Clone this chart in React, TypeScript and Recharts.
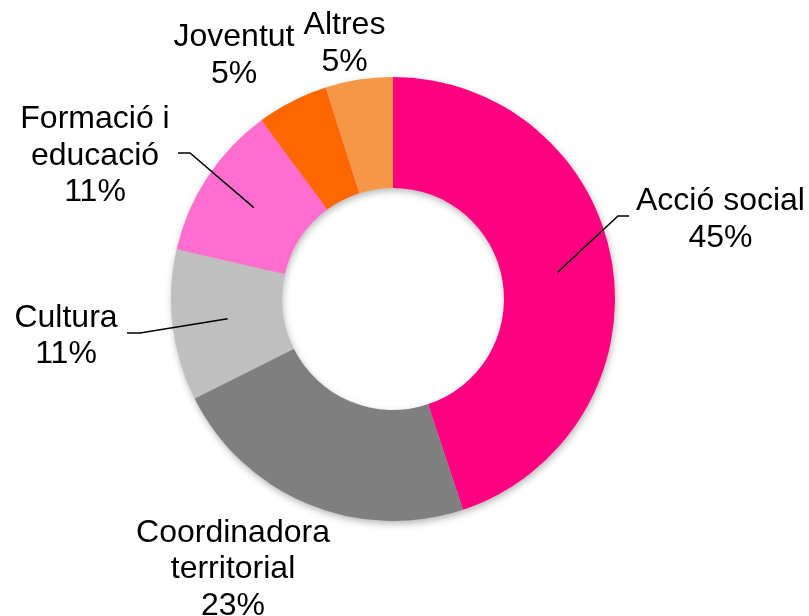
import React from 'react';
import { PieChart, Pie, Cell } from 'recharts';

const categories = ['Acció social', 'Coordinadora territorial', 'Cultura', 'Formació i educació', 'Joventut', 'Altres'];
const values = [44.9, 22.7, 11.0, 11.3, 5.2, 4.9];
const colors = ['#FF0080', '#7F7F7F', '#BFBFBF', '#FF6ECE', '#FF6600', '#F79646'];
const labelLines = [['Acció social'], ['Coordinadora', 'territorial'], ['Cultura'], ['Formació i', 'educació'], ['Joventut'], ['Altres']];

const data = categories.map((name, i) => ({ name, value: values[i] }));

// label layout: first-line baseline centre, relative to the pie centre
const labelOffsets: [number, number][] = [
  [327.5, -89],
  [-160, 242.7],
  [-327, 27.7],
  [-298, -170.7],
  [-159, -253],
  [-48.5, -264.7],
];
// leader lines: elbow and end, relative to the pie centre (null = no leader)
const leaders: ([number, number][] | null)[] = [
  [[225, -83], [236, -83]],
  null,
  [[-253, 34], [-266, 34]],
  [[-203, -146], [-215, -146]],
  null,
  null,
];

const LINE_H = 36.5;
const RAD = Math.PI / 180;

const renderLabel = (props: any) => {
  const { cx, cy, midAngle, innerRadius, outerRadius, percent, index } = props;
  const [ox, oy] = labelOffsets[index];
  const lines = [...labelLines[index], `${Math.round(percent * 100)}%`];
  const lead = leaders[index];
  let path: React.ReactNode = null;
  if (lead) {
    const r = (innerRadius + outerRadius) / 2;
    const sx = cx + r * Math.cos(-midAngle * RAD);
    const sy = cy + r * Math.sin(-midAngle * RAD);
    const pts = [[sx, sy], ...lead.map(([x, y]) => [cx + x, cy + y])];
    path = (
      <polyline
        points={pts.map((p) => p.join(',')).join(' ')}
        fill="none"
        stroke="#000"
        strokeWidth={1.5}
      />
    );
  }
  return (
    <g key={`lbl-${index}`}>
      {path}
      <text
        x={cx + ox}
        y={cy + oy}
        textAnchor="middle"
        fontFamily="'Liberation Sans', Arial, sans-serif"
        fontSize={32}
        fill="#000"
      >
        {lines.map((t, i) => (
          <tspan key={i} x={cx + ox} dy={i === 0 ? 0 : LINE_H}>
            {t}
          </tspan>
        ))}
      </text>
    </g>
  );
};

export default function App() {
  return (
    <div style={{ position: 'absolute', left: 0, top: 0, width: 809, height: 616, background: '#fff' }}>
      <style>{`.shadowPie { filter: blur(2.5px); }`}</style>
      <PieChart width={809} height={616} margin={{ top: 0, right: 0, bottom: 0, left: 0 }}>
        <Pie
          className="shadowPie"
          data={data}
          dataKey="value"
          nameKey="name"
          cx={394}
          cy={302}
          innerRadius={111}
          outerRadius={222}
          startAngle={90}
          endAngle={-270}
          stroke="none"
          isAnimationActive={false}
          label={false}
          labelLine={false}
        >
          {data.map((d, i) => (
            <Cell key={`s-${i}`} fill="rgba(0,0,0,0.28)" />
          ))}
        </Pie>
        <Pie
          data={data}
          dataKey="value"
          nameKey="name"
          cx={393}
          cy={299}
          innerRadius={111}
          outerRadius={222}
          startAngle={90}
          endAngle={-270}
          stroke="none"
          isAnimationActive={false}
          label={renderLabel}
          labelLine={false}
        >
          {data.map((d, i) => (
            <Cell key={`c-${i}`} fill={colors[i]} />
          ))}
        </Pie>
      </PieChart>
    </div>
  );
}
